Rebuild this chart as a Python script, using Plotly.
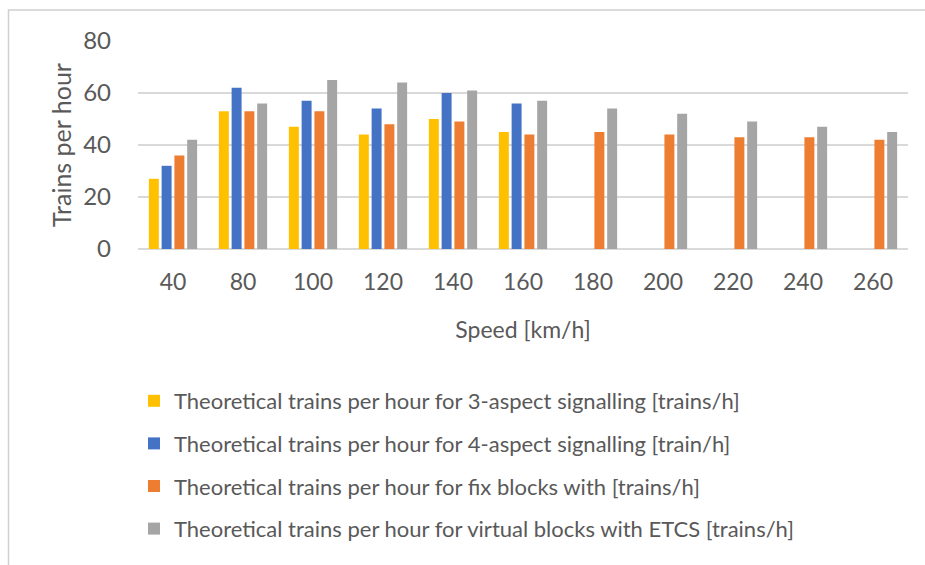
import plotly.graph_objects as go

# Speeds (km/h) and theoretical line capacity per signalling system
speeds = ["40", "80", "100", "120", "140", "160", "180", "200", "220", "240", "260"]
aspect3 = [27, 53, 47, 44, 50, 45, None, None, None, None, None]
aspect4 = [32, 62, 57, 54, 60, 56, None, None, None, None, None]
fixed_blocks = [36, 53, 53, 48, 49, 44, 45, 44, 43, 43, 42]
virtual_etcs = [42, 56, 65, 64, 61, 57, 54, 52, 49, 47, 45]

series_names = [
    "Theoretical trains per hour for 3-aspect signalling [trains/h]",
    "Theoretical trains per hour for 4-aspect signalling [train/h]",
    "Theoretical trains per hour for fix blocks with [trains/h]",
    "Theoretical trains per hour for virtual blocks with ETCS [trains/h]",
]
series_values = [aspect3, aspect4, fixed_blocks, virtual_etcs]
series_colors = ["#FFC000", "#4472C4", "#ED7D31", "#A5A5A5"]

TEXT = "#595959"
GRID = "#D9D9D9"
FONT = "Lato, Carlito, Calibri, sans-serif"

fig = go.Figure()
for i, (name, vals, col) in enumerate(zip(series_names, series_values, series_colors)):
    fig.add_trace(go.Bar(
        x=speeds, y=vals, name=name, legendgroup=f"g{i}",
        marker=dict(color=col, line=dict(width=0)),
    ))

W, H = 925, 565
L, R, T, B = 138, 17, 41, 316
pw, ph = W - L - R, H - T - B

def px_x(x):
    return (x - L) / pw

def px_y(y):
    return (H - B - y) / ph

fig.update_layout(
    width=W, height=H,
    margin=dict(l=L, r=R, t=T, b=B, pad=0),
    paper_bgcolor="white", plot_bgcolor="white",
    font=dict(family=FONT, color=TEXT),
    barmode="group", bargap=0.27, bargroupgap=0.22,
    showlegend=True,
    legend=dict(
        orientation="v", x=px_x(134), xanchor="left",
        yref="container", y=1 - 380 / H, yanchor="top",
        font=dict(family=FONT, size=22, color=TEXT),
        tracegroupgap=11, bgcolor="rgba(0,0,0,0)", borderwidth=0,
        traceorder="grouped",
    ),
    xaxis=dict(
        type="category", showgrid=False, showline=False, ticks="",
        tickfont=dict(size=23, color=TEXT), ticklabelstandoff=17,
        title=dict(text="Speed [km/h]", font=dict(size=23, color=TEXT), standoff=27),
    ),
    yaxis=dict(
        range=[0, 80], dtick=20, showgrid=True, gridcolor=GRID, gridwidth=1.5,
        zeroline=True, zerolinecolor=GRID, zerolinewidth=1.5, showline=False,
        tickfont=dict(size=24, color=TEXT), ticklabelstandoff=26,
        title=dict(text="Trains per hour", font=dict(size=25, color=TEXT), standoff=4),
    ),
    shapes=[dict(
        type="path", xref="paper", yref="paper",
        path=f"M {px_x(8.5)} {px_y(570)} L {px_x(8.5)} {px_y(10)} L {px_x(930)} {px_y(10)}",
        line=dict(color="#D0D0D0", width=1.5), layer="below",
    )],
)

fig.write_html("out.html")
